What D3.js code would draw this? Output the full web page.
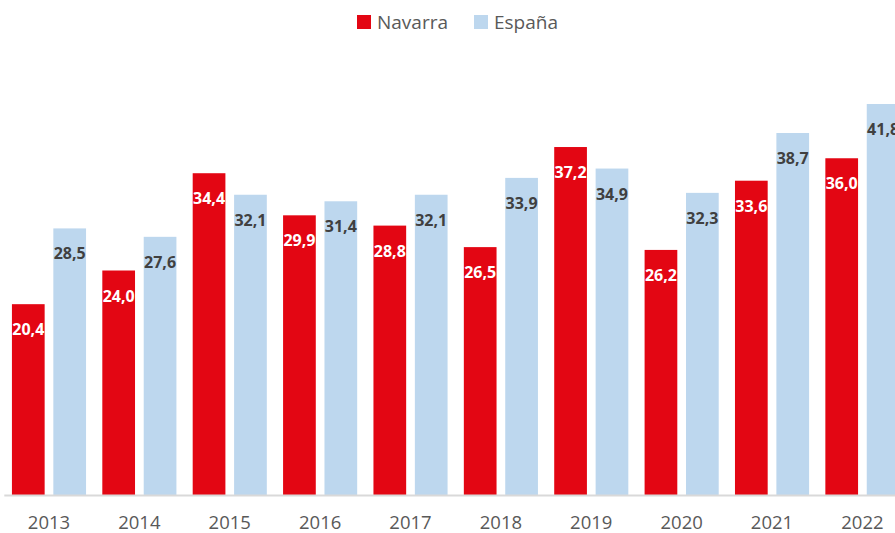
<!DOCTYPE html>
<html>
<head>
<meta charset="utf-8">
<script src="https://cdn.jsdelivr.net/npm/d3@7"></script>
<style>
    body { margin: 0; background: #fff; overflow: hidden; }
    svg { display: block; font-family: 'Open Sans', sans-serif; }
</style>
</head>
<body>
<div id="wrapper"></div>
<script>
//1. Data
const years = ['2013', '2014', '2015', '2016', '2017', '2018', '2019', '2020', '2021', '2022'];
const seriesNames = ['Navarra', 'España'];
const navarra = [20.4, 24.0, 34.4, 29.9, 28.8, 26.5, 37.2, 26.2, 33.6, 36.0];
const espana = [28.5, 27.6, 32.1, 31.4, 32.1, 33.9, 34.9, 32.3, 38.7, 41.8];
const colors = ['#e30613', '#bdd7ee'];
const labelColors = ['#ffffff', '#404040'];

function drawChart() {
    const dataset = years.map((y, i) => ({ year: y, values: [navarra[i], espana[i]] }));

    //2. Dimensions
    const dimensions = {
        width: 895,
        height: 533,
        baseline: 495,
        left: 3.8,
        right: 907.6
    };

    //3. Canvas
    const wrapper = d3.select('#wrapper')
        .append('svg')
        .attr('width', dimensions.width)
        .attr('height', dimensions.height);

    //4. Scales
    const xScale = d3.scaleBand()
        .domain(years)
        .range([dimensions.left, dimensions.right])
        .paddingInner(0.18)
        .paddingOuter(0.09);
    const xSub = d3.scaleBand()
        .domain(seriesNames)
        .range([0, xScale.bandwidth()])
        .paddingInner(0.21);
    const yScale = d3.scaleLinear()
        .domain([0, 50])
        .range([dimensions.baseline, dimensions.baseline - 50 * 9.354]);

    const fmt = d3.formatLocale({ decimal: ',', thousands: '.', grouping: [3], currency: ['', '€'] }).format('.1f');

    //5. Bars
    const groups = wrapper.selectAll('g.year')
        .data(dataset)
        .join('g')
        .attr('class', 'year')
        .attr('transform', d => `translate(${xScale(d.year)},0)`);

    const cells = groups.selectAll('g.bar')
        .data(d => d.values.map((v, i) => ({ name: seriesNames[i], i: i, value: v })))
        .join('g')
        .attr('class', 'bar');

    cells.append('rect')
        .attr('x', d => xSub(d.name))
        .attr('y', d => yScale(d.value))
        .attr('width', xSub.bandwidth())
        .attr('height', d => yScale(0) - yScale(d.value))
        .attr('fill', d => colors[d.i]);

    cells.append('text')
        .attr('x', d => xSub(d.name) + xSub.bandwidth() / 2)
        .attr('y', d => yScale(d.value) + 25)
        .attr('text-anchor', 'middle')
        .attr('dominant-baseline', 'central')
        .attr('fill', d => labelColors[d.i])
        .style('font-size', '16px')
        .style('font-weight', 'bold')
        .text(d => fmt(d.value));

    //6. Axis
    const xAxis = wrapper.append('g')
        .attr('transform', `translate(0,${dimensions.baseline})`)
        .call(d3.axisBottom(xScale).tickSize(0).tickPadding(21));
    xAxis.select('.domain')
        .attr('stroke', '#d9d9d9')
        .attr('stroke-width', 2);
    xAxis.selectAll('.tick text')
        .attr('fill', '#595959')
        .style('font-size', '18.5px')
        .style('font-family', "'Open Sans', sans-serif");

    //7. Legend
    const legendItems = [
        { name: seriesNames[0], x: 357 },
        { name: seriesNames[1], x: 474 }
    ];
    const legend = wrapper.append('g').attr('class', 'legend');
    legend.selectAll('rect')
        .data(legendItems)
        .join('rect')
        .attr('x', d => d.x)
        .attr('y', 15)
        .attr('width', 14)
        .attr('height', 14)
        .attr('fill', (d, i) => colors[i]);
    legend.selectAll('text')
        .data(legendItems)
        .join('text')
        .attr('x', d => d.x + 20)
        .attr('y', 22)
        .attr('dominant-baseline', 'central')
        .attr('fill', '#595959')
        .style('font-size', '19px')
        .text(d => d.name);
}

drawChart();
</script>
</body>
</html>
